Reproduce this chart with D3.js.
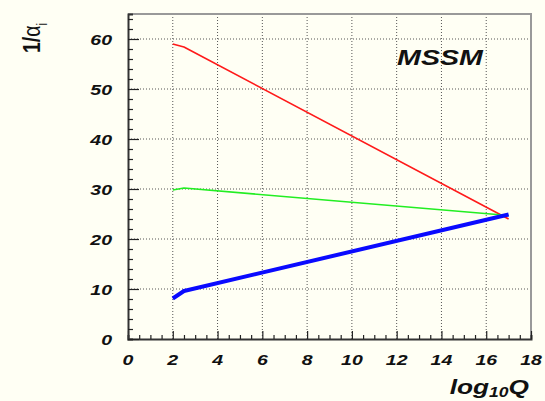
<!DOCTYPE html>
<html>
<head>
<meta charset="utf-8">
<script src="https://cdn.jsdelivr.net/npm/d3@7"></script>
<style>
  html, body { margin: 0; padding: 0; background: #fffff4; }
  svg { display: block; }
  text { font-family: "Liberation Sans", Arial, sans-serif; }
</style>
</head>
<body>
<svg id="chart" width="545" height="401"></svg>
<script>
// Inverse gauge couplings vs. log10 of the scale, MSSM running
const logQ = [2, 2.5, 17];
const alpha1Inv = [59.0, 58.4, 24.0];   // red, U(1)
const alpha2Inv = [29.8, 30.2, 24.7];   // green, SU(2)
const alpha3Inv = [8.1, 9.6, 24.9];     // blue, SU(3)
const xTicks = [0, 2, 4, 6, 8, 10, 12, 14, 16, 18];
const yTicks = [0, 10, 20, 30, 40, 50, 60];

const series = [
  { values: alpha1Inv, color: "#ff1a1a", width: 1.6 },
  { values: alpha2Inv, color: "#22ee22", width: 1.6 },
  { values: alpha3Inv, color: "#0a0aff", width: 4 }
];

const svg = d3.select("#chart");
const L = 128, R = 531, T = 14, B = 339;
const x = d3.scaleLinear().domain([0, 18]).range([L, R]);
const y = d3.scaleLinear().domain([0, 65]).range([B, T]);

// text helper: wide, ROOT-like lettering
function label(g, px, py, str, opts) {
  const t = g.append("text")
    .attr("transform", `translate(${px},${py}) scale(${opts.sx || 1.3},1)`)
    .attr("text-anchor", opts.anchor || "middle")
    .attr("font-size", opts.size || 15)
    .attr("font-weight", opts.weight || "bold")
    .attr("font-style", opts.style || "italic")
    .attr("fill", "#111");
  t.text(str);
  return t;
}

// grid
const grid = svg.append("g");
xTicks.filter(v => v > 0 && v < 18).forEach(v => {
  grid.append("line").attr("x1", x(v)).attr("x2", x(v)).attr("y1", B).attr("y2", T)
    .attr("stroke", "#555").attr("stroke-width", 1).attr("stroke-dasharray", "1,2");
});
yTicks.filter(v => v > 0).forEach(v => {
  grid.append("line").attr("x1", L).attr("x2", R).attr("y1", y(v)).attr("y2", y(v))
    .attr("stroke", "#555").attr("stroke-width", 1).attr("stroke-dasharray", "1,2");
});

// frame (top/right)
svg.append("path")
  .attr("d", `M${L},${T}H${R}V${B}`)
  .attr("fill", "none").attr("stroke", "#999").attr("stroke-width", 2);

// x axis: ticks pointing inward
const xAxisG = svg.append("g").attr("transform", `translate(0,${B})`);
xAxisG.call(d3.axisTop(x).tickValues(d3.range(0, 18.01, 0.5)).tickSize(4).tickFormat(""));
xAxisG.call(g => g.selectAll(".tick line").attr("stroke", "#222").attr("stroke-width", 1.2));
xAxisG.selectAll(".tick").filter(d => d % 2 === 0).select("line").attr("y2", -8);
xAxisG.select(".domain").attr("stroke", "#333").attr("stroke-width", 2);

// y axis: ticks pointing inward
const yAxisG = svg.append("g").attr("transform", `translate(${L},0)`);
yAxisG.call(d3.axisRight(y).tickValues(d3.range(0, 65.01, 2)).tickSize(5).tickFormat(""));
yAxisG.call(g => g.selectAll(".tick line").attr("stroke", "#222").attr("stroke-width", 1.2));
yAxisG.selectAll(".tick").filter(d => d % 10 === 0).select("line").attr("x2", 11);
yAxisG.select(".domain").attr("stroke", "#333").attr("stroke-width", 2);

// tick labels
const labels = svg.append("g");
xTicks.forEach(v => label(labels, x(v), 365, String(v), { size: 15 }));
yTicks.forEach(v => label(labels, 112, y(v) + 5.5, String(v), { size: 15, anchor: "end" }));

// curves
const line = d3.line().x((d, i) => x(logQ[i])).y(d => y(d));
const curves = svg.append("g");
series.forEach(s => {
  curves.append("path").datum(s.values)
    .attr("d", line)
    .attr("fill", "none")
    .attr("stroke", s.color)
    .attr("stroke-width", s.width)
    .attr("stroke-linejoin", "round");
});

// annotation
label(svg, 440, 65, "MSSM", { size: 22 });

// axis titles
const xt = svg.append("text")
  .attr("transform", "translate(529,394) scale(1.25,1)")
  .attr("text-anchor", "end")
  .attr("font-size", 21).attr("font-weight", "bold").attr("font-style", "italic")
  .attr("fill", "#111");
xt.append("tspan").text("log");
xt.append("tspan").attr("font-size", 14).attr("dy", 3).text("10");
xt.append("tspan").attr("dy", -3).text("Q");

const yt = svg.append("text")
  .attr("transform", "translate(40,53) rotate(-90) scale(0.85,1)")
  .attr("text-anchor", "start")
  .attr("font-size", 23)
  .attr("fill", "#111");
yt.append("tspan").attr("font-weight", "bold").text("1/");
yt.append("tspan").text("α");
yt.append("tspan").attr("font-size", 14).attr("dy", 7).text("i");
</script>
</body>
</html>
